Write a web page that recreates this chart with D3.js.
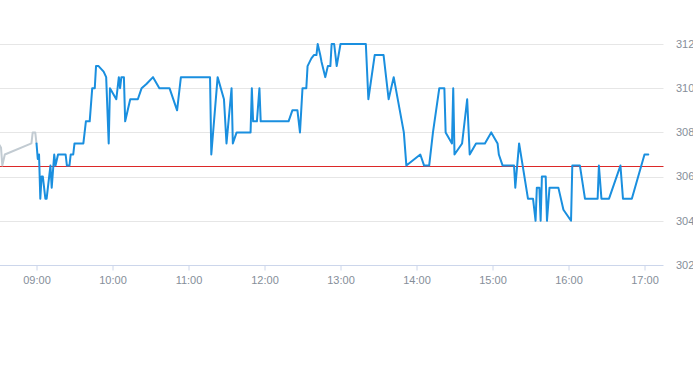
<!DOCTYPE html>
<html>
<head>
<meta charset="utf-8">
<script src="https://cdn.jsdelivr.net/npm/d3@7"></script>
<style>
  html, body { margin: 0; padding: 0; background: #ffffff; }
  svg { display: block; }
  text { font-family: "Liberation Sans", Arial, Helvetica, sans-serif; }
</style>
</head>
<body>
<div id="chart"></div>
<script>
// ---- data ----
const preTimes  = ["08:30","08:32","08:33","08:35","08:56","08:57","08:59","09:00"];
const preValues = [307.5, 307.3, 306.5, 307, 307.5, 308, 308, 307.5];

const times = ["09:00","09:01","09:02","09:03","09:04","09:05","09:07","09:08","09:11","09:12",
  "09:14","09:15","09:17","09:23","09:24","09:26","09:27","09:29","09:30","09:37",
  "09:39","09:42","09:44","09:46","09:47","09:49","09:53","09:55","09:57","09:58",
  "10:03","10:05","10:06","10:07","10:09","10:10","10:12","10:14","10:20","10:23",
  "10:27","10:32","10:37","10:45","10:51","10:54","11:17","11:18","11:23","11:28",
  "11:30","11:34","11:35","11:38","11:49","11:50","11:51","11:54","11:56","11:57",
  "12:19","12:22","12:26","12:28","12:30","12:33","12:34","12:37","12:39","12:41",
  "12:42","12:44","12:45","12:48","12:50","12:52","12:53","12:55","12:57","13:00",
  "13:20","13:22","13:27","13:34","13:38","13:42","13:50","13:52","14:03","14:06",
  "14:10","14:13","14:18","14:22","14:23","14:28","14:29","14:30","14:36","14:40",
  "14:42","14:47","14:54","14:59","15:04","15:05","15:08","15:17","15:18","15:21",
  "15:28","15:32","15:34","15:35","15:37","15:38","15:39","15:42","15:43","15:45",
  "15:52","15:56","16:02","16:03","16:09","16:13","16:23","16:24","16:26","16:32",
  "16:41","16:43","16:50","17:00","17:03"];
const values = [307.5,306.8,307,305,306,306,305,305,306.5,305.5,
  307,306.5,307,307,306.5,306.5,307,307,307.5,307.5,
  308.5,308.5,310,310,311,311,310.75,310.5,307.5,310,
  309.5,310.5,310,310.5,310.5,308.5,309,309.5,309.5,310,
  310.2,310.5,310,310,309,310.5,310.5,307,310.5,309.5,
  307.5,310,307.5,308,308,310,308.5,308.5,310,308.5,
  308.5,309,309,308,310,310,311,311.35,311.5,311.5,
  312,311.5,311.2,310.5,311,311,312,312,311,312,
  312,309.5,311.5,311.5,309.5,310.5,308,306.5,307,306.5,
  306.5,308,310,310,308,307.5,310,307,307.5,309.5,
  307,307.5,307.5,308,307.5,307,306.5,306.5,305.5,307.5,
  305,305,304,305.5,305.5,304,306,306,304,305.5,
  305.5,304.5,304,306.5,306.5,305,305,306.5,305,305,
  306.5,305,305,307,307];

const prevClose = 306.5;
const yTickValues = [302, 304, 306, 308, 310, 312];
const xTickLabels = ["09:00","10:00","11:00","12:00","13:00","14:00","15:00","16:00","17:00"];
const xDomain = ["08:30","17:15"];

// ---- chart ----
const W = 693, H = 365;
const parse = d3.timeParse("%H:%M");
const fmt = d3.timeFormat("%H:%M");

const x = d3.scaleTime()
  .domain(xDomain.map(parse))
  .range([-1.5, 663.5]);
const y = d3.scaleLinear().domain([302, 312]).range([265, 44]);

const svg = d3.select("#chart").append("svg")
  .attr("width", W).attr("height", H);

const plotLeft = 0, plotRight = 663.5;

// grid lines
svg.append("g").selectAll("line").data(yTickValues.filter(v => v !== 302)).join("line")
  .attr("x1", plotLeft).attr("x2", plotRight)
  .attr("y1", d => Math.round(y(d)) + 0.5).attr("y2", d => Math.round(y(d)) + 0.5)
  .attr("stroke", "#e6e6e6").attr("stroke-width", 1);

// right axis labels
svg.append("g").selectAll("text").data(yTickValues).join("text")
  .attr("x", 676).attr("y", d => y(d)).attr("dy", "0.35em")
  .attr("font-size", 11).attr("fill", "#858e99")
  .text(d => d);

// x axis
const xAxis = d3.axisBottom(x)
  .tickValues(xTickLabels.map(parse))
  .tickFormat(fmt)
  .tickSize(5).tickPadding(6).tickSizeOuter(0);
const gx = svg.append("g").attr("transform", "translate(0,265.5)").call(xAxis);
gx.select(".domain").attr("stroke", "#ccd6eb").attr("d", `M${plotLeft},0H${plotRight}`);
gx.selectAll(".tick line").attr("stroke", "#ccd6eb");
gx.selectAll(".tick text").attr("fill", "#858e99").attr("font-size", 11)
  .attr("font-family", "\"Liberation Sans\", Arial, sans-serif");

// previous close line
svg.append("path")
  .attr("d", `M${plotLeft},${Math.round(y(prevClose)) + 0.5}H${plotRight}`)
  .attr("fill", "none")
  .style("stroke", "rgb(220,40,40)").style("stroke-width", "1px");

// clip
svg.append("clipPath").attr("id", "plotclip").append("rect")
  .attr("x", plotLeft).attr("y", 0).attr("width", plotRight - plotLeft).attr("height", 266);

const line = d3.line().x(d => x(d[0])).y(d => y(d[1]));

const g = svg.append("g").attr("clip-path", "url(#plotclip)");

// pre-market line
g.append("path")
  .datum(preTimes.map((t, i) => [parse(t), preValues[i]]))
  .attr("d", line).attr("fill", "none")
  .attr("stroke", "#c2cbd2").attr("stroke-width", 2)
  .attr("stroke-linejoin", "round").attr("stroke-linecap", "round");

// main line
g.append("path")
  .datum(times.map((t, i) => [parse(t), values[i]]))
  .attr("d", line).attr("fill", "none")
  .attr("stroke", "#1a8fdf").attr("stroke-width", 2)
  .attr("stroke-linejoin", "round").attr("stroke-linecap", "round");
</script>
</body>
</html>
